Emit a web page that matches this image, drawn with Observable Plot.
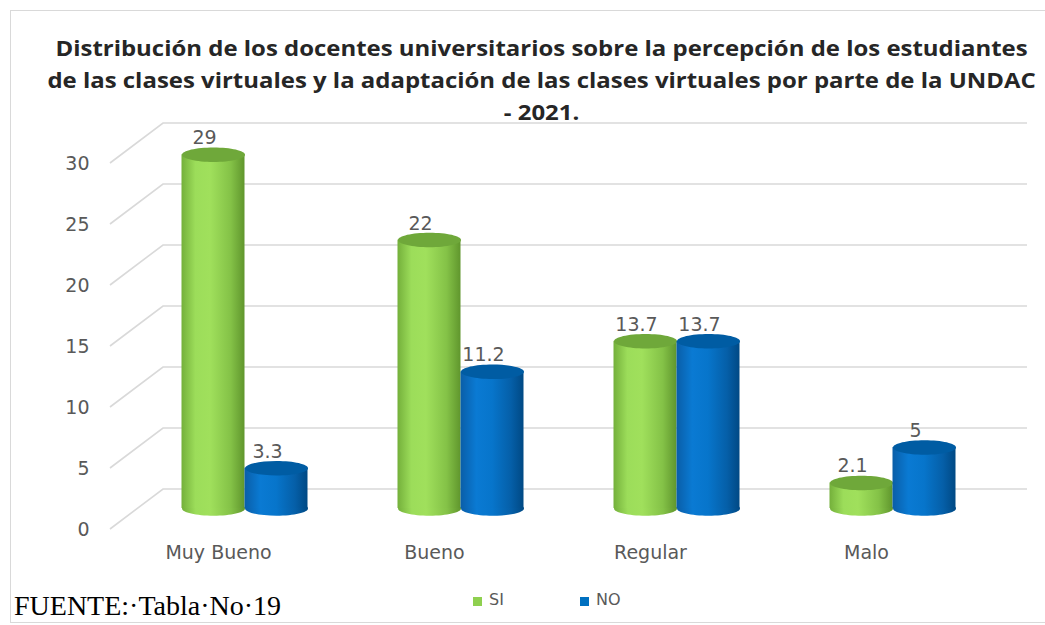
<!DOCTYPE html>
<html>
<head>
<meta charset="utf-8">
<script src="https://cdn.jsdelivr.net/npm/d3@7"></script>
<script src="https://cdn.jsdelivr.net/npm/@observablehq/plot@0.6"></script>
<style>
  html, body { margin: 0; padding: 0; background: #fff; }
  #wrap { position: relative; width: 1045px; height: 625px; overflow: hidden; background: #fff; }
  #frame { position: absolute; left: 10px; top: 10px; width: 1060px; height: 613px; border: 1.5px solid #d9d9d9; box-sizing: border-box; }
  #title { position: absolute; left: 0; top: 32px; width: 1045px; padding-left: 38px; box-sizing: border-box;
           text-align: center; font-family: "Open Sans", sans-serif; font-weight: 700; font-size: 21px; line-height: 32px; color: #262626;
           transform: scaleX(1.14); transform-origin: 541px 0; }
  #chart { position: absolute; left: 0; top: 125px; }
  .leg { position: absolute; font-family: "DejaVu Sans", sans-serif; font-size: 16px; color: #595959; }
  .sw { position: absolute; width: 9px; height: 9px; }
  #fuente { position: absolute; left: 14px; top: 590px; font-family: "Liberation Serif", serif; font-size: 28px; line-height: 32px; color: #000; background: #fff; padding-right: 4px; white-space: pre; }
</style>
</head>
<body>
<div id="wrap">
  <div id="frame"></div>
  <div id="title">Distribución de los docentes universitarios sobre la percepción de los estudiantes<br>de las clases virtuales y la adaptación de las clases virtuales por parte de la UNDAC<br>- 2021.</div>
  <div id="chart"></div>
  <div id="fuente">FUENTE:·Tabla·No·19</div>
</div>
<script>
// ---- data ----
const categories = ["Muy Bueno", "Bueno", "Regular", "Malo"];
const seriesNames = ["SI", "NO"];
const siValues = [29, 22, 13.7, 2.1];
const noValues = [3.3, 11.2, 13.7, 5];
const yTicks = [0, 5, 10, 15, 20, 25, 30];

const siData = categories.map((c, i) => ({cat: c, serie: "SI", value: siValues[i]}));
const noData = categories.map((c, i) => ({cat: c, serie: "NO", value: noValues[i]}));

// ---- styling / 3D geometry ----
const depthX = 53, depthY = 40;          // back wall offset
const midX = 26.5, midY = -21;           // bars sit at mid depth
const barW = 63, band = 216;
const inset = (band - barW) / 2;

const ellipse = {
  draw(ctx, size) {
    const rx = Math.sqrt(size / Math.PI), ry = rx * 0.23, k = 0.5523;
    ctx.moveTo(rx, 0);
    ctx.bezierCurveTo(rx, ry * k, rx * k, ry, 0, ry);
    ctx.bezierCurveTo(-rx * k, ry, -rx, ry * k, -rx, 0);
    ctx.bezierCurveTo(-rx, -ry * k, -rx * k, -ry, 0, -ry);
    ctx.bezierCurveTo(rx * k, -ry, rx, -ry * k, rx, 0);
    ctx.closePath();
  }
};

function defsMark() {
  const defs = d3.create("svg:defs");
  const grads = {
    gGreen: [["0%", "#74b03b"], ["22%", "#9cdd5a"], ["45%", "#a0e05c"], ["78%", "#84c247"], ["100%", "#60962d"]],
    gBlue: [["0%", "#0a5ea8"], ["25%", "#0a7ad3"], ["50%", "#0775cb"], ["80%", "#055fa8"], ["100%", "#004984"]]
  };
  for (const [id, stops] of Object.entries(grads)) {
    const g = defs.append("linearGradient").attr("id", id).attr("x1", "0").attr("x2", "1").attr("y1", "0").attr("y2", "0");
    for (const [o, c] of stops) g.append("stop").attr("offset", o).attr("stop-color", c);
  }
  return defs.node();
}

function cylinder(data, dxCenter, grad, topColor, labelDx) {
  return [
    Plot.dot(data, {x: "cat", y: () => 0, r: barW / 2, symbol: ellipse, fill: `url(#${grad})`, dx: dxCenter, dy: midY}),
    Plot.barY(data, {x: "cat", y: "value", insetLeft: inset + dxCenter, insetRight: inset - dxCenter, dy: midY, fill: `url(#${grad})`}),
    Plot.dot(data, {x: "cat", y: "value", r: barW / 2, symbol: ellipse, fill: topColor, dx: dxCenter, dy: midY}),
    Plot.text(data, {x: "cat", y: "value", text: d => String(d.value), dx: labelDx, dy: midY - 16.5, lineAnchor: "middle",
      fill: "#595959", fontSize: 19, fontFamily: "DejaVu Sans"})
  ];
}

const W = 1045, H = 440;
const chart = Plot.plot({
  width: W, height: H,
  marginLeft: 110, marginRight: W - 974, marginTop: 38, marginBottom: 36,
  style: {fontFamily: "DejaVu Sans", fontSize: "19px", color: "#595959", background: "transparent", overflow: "visible"},
  x: {domain: categories, padding: 0, label: null},
  y: {domain: [0, 30], label: null},
  marks: [
    defsMark,
    Plot.ruleY(yTicks, {
      y: d => d, stroke: "#d9d9d9", strokeWidth: 1.6,
      render(index, scales, values, dims) {
        const g = d3.create("svg:g").attr("fill", "none").attr("stroke", "#d9d9d9").attr("stroke-width", 1.6);
        const x0 = dims.marginLeft, x1 = dims.width - dims.marginRight;
        for (const i of index) {
          const y = values.y[i];
          g.append("path").attr("d", `M${x0},${y}L${x0 + depthX},${y - depthY}L${x1 + depthX},${y - depthY}`);
        }
        return g.node();
      }
    }),
    Plot.axisY({ticks: yTicks, tickSize: 0, tickPadding: 21, fontSize: 19, tickFormat: d => String(d), label: null}),
    Plot.axisX({tickSize: 0, tickPadding: 16, fontSize: 19, label: null}),
    ...cylinder(siData, midX - barW / 2, "gGreen", "#6fa83a", midX - barW / 2 - 9),
    ...cylinder(noData, midX + barW / 2, "gBlue", "#005ca3", midX + barW / 2 - 9)
  ]
});
document.getElementById("chart").appendChild(chart);

// legend
const wrap = document.getElementById("wrap");
const legColors = {SI: "#8fd04f", NO: "#0070c0"};
const legPos = {SI: 473, NO: 580};
for (const s of seriesNames) {
  const sw = document.createElement("div");
  sw.className = "sw";
  sw.style.left = legPos[s] + "px"; sw.style.top = "597px"; sw.style.background = legColors[s];
  const t = document.createElement("div");
  t.className = "leg";
  t.style.left = (legPos[s] + 16) + "px"; t.style.top = "590px";
  t.textContent = s;
  wrap.appendChild(sw);
  wrap.appendChild(t);
}
</script>
</body>
</html>
